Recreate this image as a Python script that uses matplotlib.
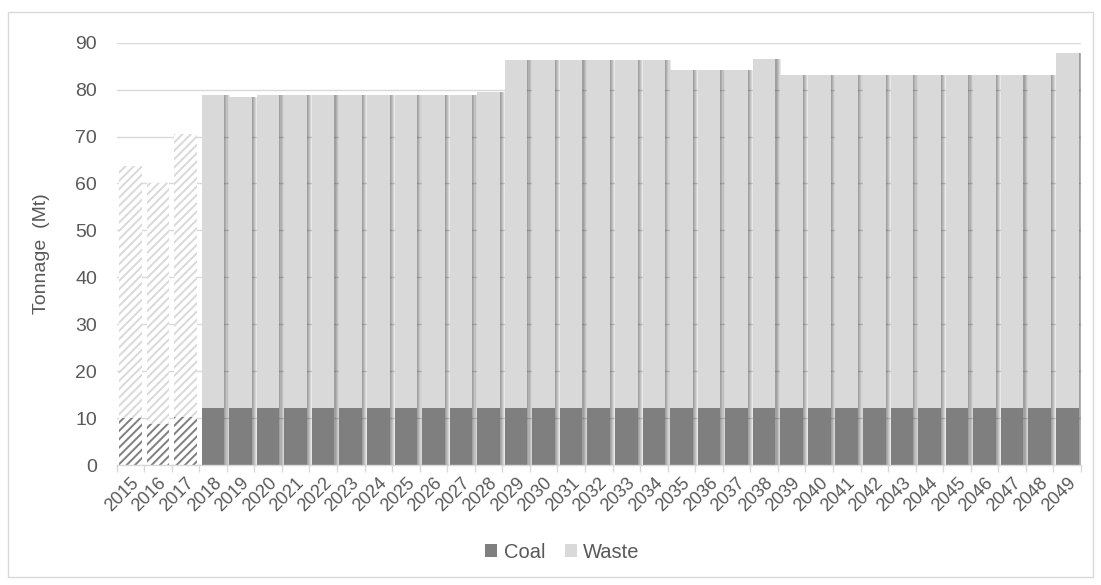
import matplotlib
matplotlib.use("Agg")
import matplotlib.pyplot as plt
import matplotlib.patheffects as pe
from matplotlib.patches import Patch, Rectangle

plt.rcParams["font.family"] = ["Liberation Sans", "DejaVu Sans"]
plt.rcParams["hatch.linewidth"] = 1.4

years = [str(y) for y in range(2015, 2050)]
coal = [10.1, 8.7, 10.3, 12.1, 12.1, 12.2, 12.2, 12.2, 12.2, 12.2,
        12.2, 12.2, 12.2, 12.2, 12.2, 12.2, 12.2, 12.2, 12.2, 12.2,
        12.2, 12.2, 12.2, 12.2, 12.2, 12.2, 12.2, 12.2, 12.2, 12.2,
        12.2, 12.2, 12.2, 12.2, 12.2]
total = [63.8, 60.1, 70.6, 78.9, 78.5, 78.9, 78.9, 78.9, 78.9, 78.9,
         78.9, 78.9, 78.9, 79.5, 86.4, 86.4, 86.4, 86.4, 86.4, 86.4,
         84.1, 84.1, 84.1, 86.6, 83.2, 83.2, 83.2, 83.2, 83.2, 83.2,
         83.2, 83.2, 83.2, 83.2, 87.9]
waste = [round(t - c, 1) for t, c in zip(total, coal)]
actual_years = 3  # first years are historical, drawn hatched

COAL_C = "#7f7f7f"
WASTE_C = "#d9d9d9"
TEXT_C = "#595959"
GRID_C = "#d9d9d9"

fig = plt.figure(figsize=(11.01, 5.85), dpi=100)
fig.patches.append(Rectangle((8 / 1101, 8 / 585), 1085 / 1101, 565 / 585,
                             transform=fig.transFigure, fill=False,
                             edgecolor="#d9d9d9", linewidth=1.0))
ax = fig.add_axes([116.5 / 1101, 1 - 465 / 585, 964.5 / 1101, 422.3 / 585])

x = list(range(len(years)))
width = 0.82
# soft drop shadow to the right of the forecast bars (stacked layers)
shadow = [pe.SimplePatchShadow(offset=(d, 0), shadow_rgbFace="#000000", alpha=0.085)
          for d in (4.0, 3.2, 2.4, 1.6, 0.8)]
shadow.append(pe.Normal())

for i in x:
    if i < actual_years:
        ax.bar(i, coal[i], width, color="white", edgecolor=COAL_C,
               hatch="////", linewidth=0, zorder=3)
        ax.bar(i, waste[i], width, bottom=coal[i], color="white",
               edgecolor=WASTE_C, hatch="////", linewidth=0, zorder=3)
    else:
        b1 = ax.bar(i, coal[i], width, color=COAL_C, linewidth=0, zorder=3)
        b2 = ax.bar(i, waste[i], width, bottom=coal[i], color=WASTE_C,
                    linewidth=0, zorder=3)
        for p in list(b1) + list(b2):
            p.set_path_effects(shadow)

ax.set_xlim(-0.5, len(years) - 0.5)
ax.set_ylim(0, 90)
ax.set_yticks(range(0, 91, 10))
ax.yaxis.grid(True, color=GRID_C, linewidth=1.0, zorder=0)
ax.set_axisbelow(True)

ax.set_xticks(x)
ax.set_xticklabels(years, rotation=45, ha="right", rotation_mode="anchor",
                   fontsize=13, color=TEXT_C)
ax.tick_params(axis="x", length=0, pad=7)
ax.set_xticks([i - 0.5 for i in range(len(years) + 1)], minor=True)
ax.tick_params(axis="x", which="minor", length=5, color=GRID_C, width=1)
ax.tick_params(axis="y", length=0, labelsize=14, labelcolor=TEXT_C, pad=14)

for s in ["top", "right", "left"]:
    ax.spines[s].set_visible(False)
ax.spines["bottom"].set_color(GRID_C)
ax.spines["bottom"].set_linewidth(1.0)
ax.spines["bottom"].set_zorder(4)

ax.set_ylabel("Tonnage  (Mt)", fontsize=14, color=TEXT_C)
ax.yaxis.set_label_coords((50 - 116.5) / 964.5, 0.5)

handles = [Patch(facecolor=COAL_C, edgecolor="none", label="Coal"),
           Patch(facecolor=WASTE_C, edgecolor="none", label="Waste")]
fig.legend(handles=handles, loc="center", bbox_to_anchor=(0.511, 0.056),
           ncol=2, frameon=False, fontsize=14.5, labelcolor=TEXT_C,
           handlelength=0.6, handleheight=0.6, handletextpad=0.3,
           columnspacing=1.0)

fig.savefig("out.png", dpi=100)
